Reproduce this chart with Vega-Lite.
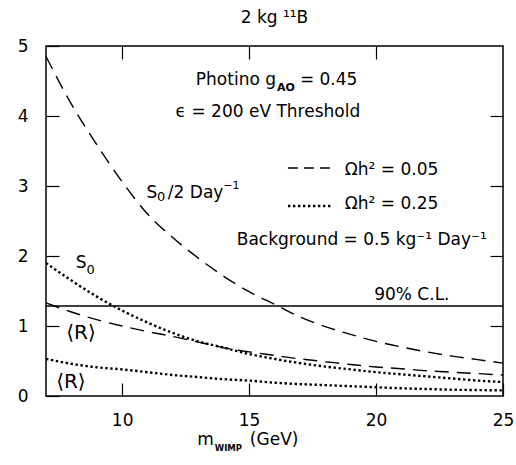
{
  "$schema": "https://vega.github.io/schema/vega-lite/v6.json",
  "width": 457,
  "height": 350,
  "autosize": {"type": "none"},
  "padding": {"left": 46, "top": 46, "right": 13, "bottom": 69},
  "background": "white",
  "config": {
    "font": "DejaVu Sans",
    "view": {"stroke": "black", "strokeWidth": 1.5},
    "axis": {"labelFont": "DejaVu Sans", "labelColor": "black", "tickColor": "black", "tickWidth": 1.2, "domain": false, "grid": false, "title": null, "labelFlush": false, "labelOverlap": false}
  },
  "title": {"text": "2 kg ¹¹B", "fontSize": 17, "fontWeight": "normal", "color": "black", "offset": 10, "anchor": "middle"},
  "datasets": {
    "curves": [
      {"omega": 0.05, "curve": "S0/2", "m": 7, "rate": 4.85},
      {"omega": 0.05, "curve": "S0/2", "m": 8, "rate": 4.17},
      {"omega": 0.05, "curve": "S0/2", "m": 9, "rate": 3.59},
      {"omega": 0.05, "curve": "S0/2", "m": 10, "rate": 3.06},
      {"omega": 0.05, "curve": "S0/2", "m": 11, "rate": 2.6},
      {"omega": 0.05, "curve": "S0/2", "m": 12, "rate": 2.26},
      {"omega": 0.05, "curve": "S0/2", "m": 13, "rate": 1.97},
      {"omega": 0.05, "curve": "S0/2", "m": 14, "rate": 1.71},
      {"omega": 0.05, "curve": "S0/2", "m": 15, "rate": 1.49},
      {"omega": 0.05, "curve": "S0/2", "m": 16, "rate": 1.31},
      {"omega": 0.05, "curve": "S0/2", "m": 17, "rate": 1.13},
      {"omega": 0.05, "curve": "S0/2", "m": 18, "rate": 0.99},
      {"omega": 0.05, "curve": "S0/2", "m": 19, "rate": 0.88},
      {"omega": 0.05, "curve": "S0/2", "m": 20, "rate": 0.78},
      {"omega": 0.05, "curve": "S0/2", "m": 21, "rate": 0.7},
      {"omega": 0.05, "curve": "S0/2", "m": 22, "rate": 0.63},
      {"omega": 0.05, "curve": "S0/2", "m": 23, "rate": 0.57},
      {"omega": 0.05, "curve": "S0/2", "m": 24, "rate": 0.52},
      {"omega": 0.05, "curve": "S0/2", "m": 25, "rate": 0.47},
      {"omega": 0.05, "curve": "R", "m": 7, "rate": 1.33},
      {"omega": 0.05, "curve": "R", "m": 8, "rate": 1.2},
      {"omega": 0.05, "curve": "R", "m": 9, "rate": 1.09},
      {"omega": 0.05, "curve": "R", "m": 10, "rate": 1.0},
      {"omega": 0.05, "curve": "R", "m": 11, "rate": 0.92},
      {"omega": 0.05, "curve": "R", "m": 12, "rate": 0.85},
      {"omega": 0.05, "curve": "R", "m": 13, "rate": 0.77},
      {"omega": 0.05, "curve": "R", "m": 14, "rate": 0.69},
      {"omega": 0.05, "curve": "R", "m": 15, "rate": 0.63},
      {"omega": 0.05, "curve": "R", "m": 16, "rate": 0.58},
      {"omega": 0.05, "curve": "R", "m": 17, "rate": 0.53},
      {"omega": 0.05, "curve": "R", "m": 18, "rate": 0.49},
      {"omega": 0.05, "curve": "R", "m": 19, "rate": 0.45},
      {"omega": 0.05, "curve": "R", "m": 20, "rate": 0.415},
      {"omega": 0.05, "curve": "R", "m": 21, "rate": 0.39},
      {"omega": 0.05, "curve": "R", "m": 22, "rate": 0.36},
      {"omega": 0.05, "curve": "R", "m": 23, "rate": 0.34},
      {"omega": 0.05, "curve": "R", "m": 24, "rate": 0.32},
      {"omega": 0.05, "curve": "R", "m": 25, "rate": 0.3},
      {"omega": 0.25, "curve": "S0", "m": 7, "rate": 1.9},
      {"omega": 0.25, "curve": "S0", "m": 8, "rate": 1.65},
      {"omega": 0.25, "curve": "S0", "m": 9, "rate": 1.42},
      {"omega": 0.25, "curve": "S0", "m": 10, "rate": 1.22},
      {"omega": 0.25, "curve": "S0", "m": 11, "rate": 1.05},
      {"omega": 0.25, "curve": "S0", "m": 12, "rate": 0.9},
      {"omega": 0.25, "curve": "S0", "m": 13, "rate": 0.78},
      {"omega": 0.25, "curve": "S0", "m": 14, "rate": 0.69},
      {"omega": 0.25, "curve": "S0", "m": 15, "rate": 0.6},
      {"omega": 0.25, "curve": "S0", "m": 16, "rate": 0.53},
      {"omega": 0.25, "curve": "S0", "m": 17, "rate": 0.47},
      {"omega": 0.25, "curve": "S0", "m": 18, "rate": 0.42},
      {"omega": 0.25, "curve": "S0", "m": 19, "rate": 0.38},
      {"omega": 0.25, "curve": "S0", "m": 20, "rate": 0.34},
      {"omega": 0.25, "curve": "S0", "m": 21, "rate": 0.31},
      {"omega": 0.25, "curve": "S0", "m": 22, "rate": 0.28},
      {"omega": 0.25, "curve": "S0", "m": 23, "rate": 0.25},
      {"omega": 0.25, "curve": "S0", "m": 24, "rate": 0.22},
      {"omega": 0.25, "curve": "S0", "m": 25, "rate": 0.2},
      {"omega": 0.25, "curve": "R", "m": 7, "rate": 0.53},
      {"omega": 0.25, "curve": "R", "m": 8, "rate": 0.46},
      {"omega": 0.25, "curve": "R", "m": 9, "rate": 0.41},
      {"omega": 0.25, "curve": "R", "m": 10, "rate": 0.38},
      {"omega": 0.25, "curve": "R", "m": 11, "rate": 0.34},
      {"omega": 0.25, "curve": "R", "m": 12, "rate": 0.3},
      {"omega": 0.25, "curve": "R", "m": 13, "rate": 0.27},
      {"omega": 0.25, "curve": "R", "m": 14, "rate": 0.24},
      {"omega": 0.25, "curve": "R", "m": 15, "rate": 0.22},
      {"omega": 0.25, "curve": "R", "m": 16, "rate": 0.19},
      {"omega": 0.25, "curve": "R", "m": 17, "rate": 0.17},
      {"omega": 0.25, "curve": "R", "m": 18, "rate": 0.155},
      {"omega": 0.25, "curve": "R", "m": 19, "rate": 0.14},
      {"omega": 0.25, "curve": "R", "m": 20, "rate": 0.125},
      {"omega": 0.25, "curve": "R", "m": 21, "rate": 0.11},
      {"omega": 0.25, "curve": "R", "m": 22, "rate": 0.1},
      {"omega": 0.25, "curve": "R", "m": 23, "rate": 0.09},
      {"omega": 0.25, "curve": "R", "m": 24, "rate": 0.085},
      {"omega": 0.25, "curve": "R", "m": 25, "rate": 0.08}
    ],
    "key": [
      {"omega": 0.05, "m": 16.53, "m2": 18.26, "rate": 3.257},
      {"omega": 0.25, "m": 16.53, "m2": 18.26, "rate": 2.714}
    ]
  },
  "encoding": {
    "x": {"field": "m", "type": "quantitative", "scale": {"domain": [7, 25], "nice": false, "zero": false}, "axis": null},
    "y": {"field": "rate", "type": "quantitative", "scale": {"domain": [0, 5], "nice": false, "zero": false}, "axis": null}
  },
  "layer": [
    {
      "data": {"name": "curves"},
      "transform": [{"filter": "datum.omega == 0.05"}],
      "mark": {"type": "line", "color": "black", "strokeWidth": 1.4, "strokeDash": [14, 8], "interpolate": "monotone"},
      "encoding": {
        "x": {"field": "m", "type": "quantitative", "scale": {"domain": [7, 25], "nice": false, "zero": false},
          "axis": {"orient": "bottom", "values": [10, 15, 20, 25], "tickSize": -13, "labelFontSize": 17, "labelPadding": 29}},
        "y": {"field": "rate", "type": "quantitative", "scale": {"domain": [0, 5], "nice": false, "zero": false},
          "axis": {"orient": "left", "values": [0, 1, 2, 3, 4, 5], "tickSize": -13, "labelFontSize": 17, "labelPadding": 31}},
        "detail": {"field": "curve"}
      }
    },
    {
      "data": {"name": "curves"},
      "transform": [{"filter": "datum.omega == 0.25"}],
      "mark": {"type": "line", "color": "black", "strokeWidth": 2.4, "strokeDash": [2.4, 2.6], "interpolate": "monotone"},
      "encoding": {"detail": {"field": "curve"}}
    },
    {
      "data": {"name": "key"},
      "transform": [{"filter": "datum.omega == 0.05"}],
      "mark": {"type": "rule", "color": "black", "strokeWidth": 1.4, "strokeDash": [10, 6]},
      "encoding": {
        "x": {"field": "m", "type": "quantitative", "scale": {"domain": [7, 25], "nice": false, "zero": false},
          "axis": {"orient": "top", "values": [10, 15, 20], "tickSize": -13, "labels": false}},
        "x2": {"field": "m2"},
        "y": {"field": "rate", "type": "quantitative", "scale": {"domain": [0, 5], "nice": false, "zero": false},
          "axis": {"orient": "right", "values": [1, 2, 3, 4], "tickSize": -13, "labels": false}}
      }
    },
    {
      "data": {"name": "key"},
      "transform": [{"filter": "datum.omega == 0.25"}],
      "mark": {"type": "rule", "color": "black", "strokeWidth": 2.4, "strokeDash": [2.4, 2.6]},
      "encoding": {"x2": {"field": "m2"}}
    },
    {
      "data": {"values": [{"m": 7, "m2": 25, "rate": 1.286}]},
      "mark": {"type": "rule", "color": "black", "strokeWidth": 1.5},
      "encoding": {"x2": {"field": "m2"}}
    },
    {
      "data": {"values": [
        {"m": 21.41, "rate": 1.443, "text": "90% C.L."},
        {"m": 19.44, "rate": 2.229, "text": "Background = 0.5 kg⁻¹ Day⁻¹"},
        {"m": 15.74, "rate": 4.057, "text": "ϵ = 200 eV Threshold"},
        {"m": 11.17, "rate": 2.9, "text": "S"},
        {"m": 8.38, "rate": 1.9, "text": "S"}
      ]},
      "mark": {"type": "text", "align": "center", "baseline": "middle", "fontSize": 17, "color": "black"},
      "encoding": {"text": {"field": "text"}}
    },
    {
      "data": {"values": [
        {"m": 11.37, "rate": 2.843, "text": "0"},
        {"m": 8.6, "rate": 1.8, "text": "0"}
      ]},
      "mark": {"type": "text", "align": "left", "baseline": "middle", "fontSize": 13, "color": "black"},
      "encoding": {"text": {"field": "text"}}
    },
    {
      "data": {"values": [
        {"m": 13.98, "rate": 3.0, "text": "−1"}
      ]},
      "mark": {"type": "text", "align": "left", "baseline": "middle", "fontSize": 11, "color": "black"},
      "encoding": {"text": {"field": "text"}}
    },
    {
      "data": {"values": [
        {"m": 8.38, "rate": 0.9, "text": "⟨R⟩"},
        {"m": 7.98, "rate": 0.2, "text": "⟨R⟩"}
      ]},
      "mark": {"type": "text", "align": "center", "baseline": "middle", "fontSize": 20, "color": "black"},
      "encoding": {"text": {"field": "text"}}
    },
    {
      "data": {"values": [
        {"m": 11.8, "rate": 2.9, "text": "/2 Day"},
        {"m": 18.77, "rate": 3.229, "text": "Ωh² = 0.05"},
        {"m": 18.77, "rate": 2.743, "text": "Ωh² = 0.25"},
        {"m": 17.0, "rate": 4.514, "text": "= 0.45"},
        {"m": 15.03, "rate": -0.629, "text": "(GeV)"}
      ]},
      "mark": {"type": "text", "align": "left", "baseline": "middle", "fontSize": 17, "color": "black"},
      "encoding": {"text": {"field": "text"}}
    },
    {
      "data": {"values": [
        {"m": 16.06, "rate": 4.514, "text": "Photino g"},
        {"m": 13.61, "rate": -0.629, "text": "m"}
      ]},
      "mark": {"type": "text", "align": "right", "baseline": "middle", "fontSize": 17, "color": "black"},
      "encoding": {"text": {"field": "text"}}
    },
    {
      "data": {"values": [
        {"m": 16.1, "rate": 4.4, "text": "AO"}
      ]},
      "mark": {"type": "text", "align": "left", "baseline": "middle", "fontSize": 11, "fontWeight": "bold", "color": "black"},
      "encoding": {"text": {"field": "text"}}
    },
    {
      "data": {"values": [
        {"m": 13.65, "rate": -0.743, "text": "WIMP"}
      ]},
      "mark": {"type": "text", "align": "left", "baseline": "middle", "fontSize": 8.5, "fontWeight": "bold", "color": "black"},
      "encoding": {"text": {"field": "text"}}
    }
  ],
  "resolve": {"axis": {"x": "independent", "y": "independent"}}
}
